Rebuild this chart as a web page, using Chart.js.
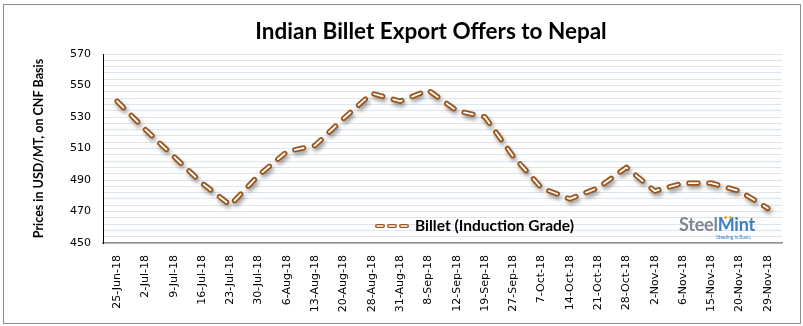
<!DOCTYPE html>
<html>
<head>
<meta charset="utf-8">
<script src="https://cdn.jsdelivr.net/npm/chart.js@4.4.0/dist/chart.umd.min.js"></script>
<style>
  body { margin: 0; background: #fff; }
  #wrap { position: relative; width: 803px; height: 326px; }
  #frame { position: absolute; left: 3px; top: 4px; width: 796px; height: 318px; border: 1px solid #8c8c8c; pointer-events: none; }
  #title { position: absolute; left: 0; width: 862px; top: 17px; text-align: center; font: bold 22.5px Lato, sans-serif; color: #000; }
  #logo { position: absolute; left: 679px; top: 213px; font: bold 18px Lato, sans-serif; letter-spacing: -0.2px; }
  #logo .steel { color: #7f8790; }
  #logo .mint { color: #3b7fc4; }
  #logo .tag { position: absolute; left: 37px; top: 21px; font: 5px Lato, sans-serif; color: #3b7fc4; white-space: nowrap; letter-spacing: 0; }
  #logo .dot { position: absolute; top: 3px; width: 3px; height: 3px; border-radius: 50%; background: #f2a531; }
</style>
</head>
<body>
<div id="wrap">
  <canvas id="billetChart" width="803" height="326"></canvas>
  <div id="title">Indian Billet Export Offers to Nepal</div>
  <div id="logo"><span class="steel">Steel</span><span class="mint">Mint</span><span class="dot" style="left:45px"></span><span class="dot" style="left:50px"></span><span class="tag">Steeling is Basic</span></div>
  <div id="frame"></div>
</div>
<script>
const weeks = ['25-Jun-18', '2-Jul-18', '9-Jul-18', '16-Jul-18', '23-Jul-18', '30-Jul-18', '6-Aug-18', '13-Aug-18',
  '20-Aug-18', '28-Aug-18', '31-Aug-18', '8-Sep-18', '12-Sep-18', '19-Sep-18', '27-Sep-18', '7-Oct-18',
  '14-Oct-18', '21-Oct-18', '28-Oct-18', '2-Nov-18', '6-Nov-18', '15-Nov-18', '20-Nov-18', '29-Nov-18'];
const billetPrices = [540, 522, 505, 488, 474, 493, 508, 512, 529, 545, 540, 547, 534, 530, 505, 485,
  478, 485, 498, 483, 488, 488, 483, 472];
const seriesName = 'Billet (Induction Grade)';
const yMin = 450, yMax = 570, yLabelStep = 20, yGridStep = 4;

const BROWN = '#9c5419';

// soft drop shadow under the brown dashed line
const lineShadow = {
  id: 'lineShadow',
  beforeDatasetDraw(chart, args) {
    if (args.index !== 1) return;
    const ctx = chart.ctx;
    ctx.save();
    ctx.shadowColor = 'rgba(0,0,0,0.4)';
    ctx.shadowBlur = 4;
    ctx.shadowOffsetX = 1.5;
    ctx.shadowOffsetY = 3;
  },
  afterDatasetDraw(chart, args) {
    if (args.index === 1) chart.ctx.restore();
  }
};

// legend sits inside the plot, near the bottom
const insideLegend = {
  id: 'insideLegend',
  afterDatasetsDraw(chart) {
    const ctx = chart.ctx;
    const area = chart.chartArea;
    const x = area.left + 274, y = area.bottom - 17;
    ctx.save();
    ctx.lineCap = 'round';
    ctx.setLineDash([6, 6]);
    ctx.beginPath();
    ctx.moveTo(x, y);
    ctx.lineTo(x + 30, y);
    ctx.strokeStyle = BROWN;
    ctx.lineWidth = 4;
    ctx.stroke();
    ctx.strokeStyle = '#fff';
    ctx.lineWidth = 1.3;
    ctx.stroke();
    ctx.setLineDash([]);
    ctx.font = 'bold 15.5px Lato, sans-serif';
    ctx.fillStyle = '#000';
    ctx.textBaseline = 'middle';
    ctx.fillText(seriesName, x + 38, y);
    ctx.restore();
  }
};

function renderChart() {
  const ctx = document.getElementById('billetChart').getContext('2d');
  const lineStyle = {
    data: billetPrices,
    label: seriesName,
    fill: false,
    tension: 0,
    pointRadius: 0,
    pointHoverRadius: 0,
    borderDash: [9, 11],
    borderCapStyle: 'round',
    borderJoinStyle: 'round'
  };

  new Chart(ctx, {
    type: 'line',
    data: {
      labels: weeks,
      datasets: [
        { ...lineStyle, borderColor: '#ffffff', borderWidth: 1.8, order: 0 },
        { ...lineStyle, borderColor: BROWN, borderWidth: 5.4, order: 1 }
      ]
    },
    options: {
      responsive: false,
      animation: false,
      layout: { padding: { top: 54, right: 21, bottom: 0, left: 0 } },
      plugins: {
        legend: { display: false },
        tooltip: { enabled: false }
      },
      scales: {
        x: {
          offset: true,
          grid: { display: false, drawTicks: false },
          border: { display: true, color: '#8e8e8e', width: 1.5 },
          ticks: {
            autoSkip: false,
            maxRotation: 90,
            minRotation: 90,
            padding: 12,
            color: '#000',
            font: { family: 'DejaVu Sans', size: 11 }
          },
          afterFit(scale) { scale.height = 83; }
        },
        y: {
          min: yMin,
          max: yMax,
          grid: { color: '#dde6f0', lineWidth: 1, drawTicks: false },
          border: { display: true, color: '#000', width: 1 },
          ticks: {
            stepSize: yGridStep,
            autoSkip: false,
            padding: 12,
            color: '#000',
            font: { family: 'DejaVu Sans', size: 11 },
            callback: v => ((v - yMin) % yLabelStep === 0 ? v : '')
          },
          title: {
            display: true,
            text: 'Prices in USD/MT, on CNF Basis',
            color: '#000',
            font: { family: 'Lato', size: 12.5, weight: 'bold' },
            padding: { top: 31, bottom: 0 }
          },
          afterFit(scale) { scale.width = 103; }
        }
      }
    },
    plugins: [lineShadow, insideLegend]
  });
}

document.fonts.load('bold 14px Lato').then(renderChart, renderChart);
</script>
</body>
</html>
